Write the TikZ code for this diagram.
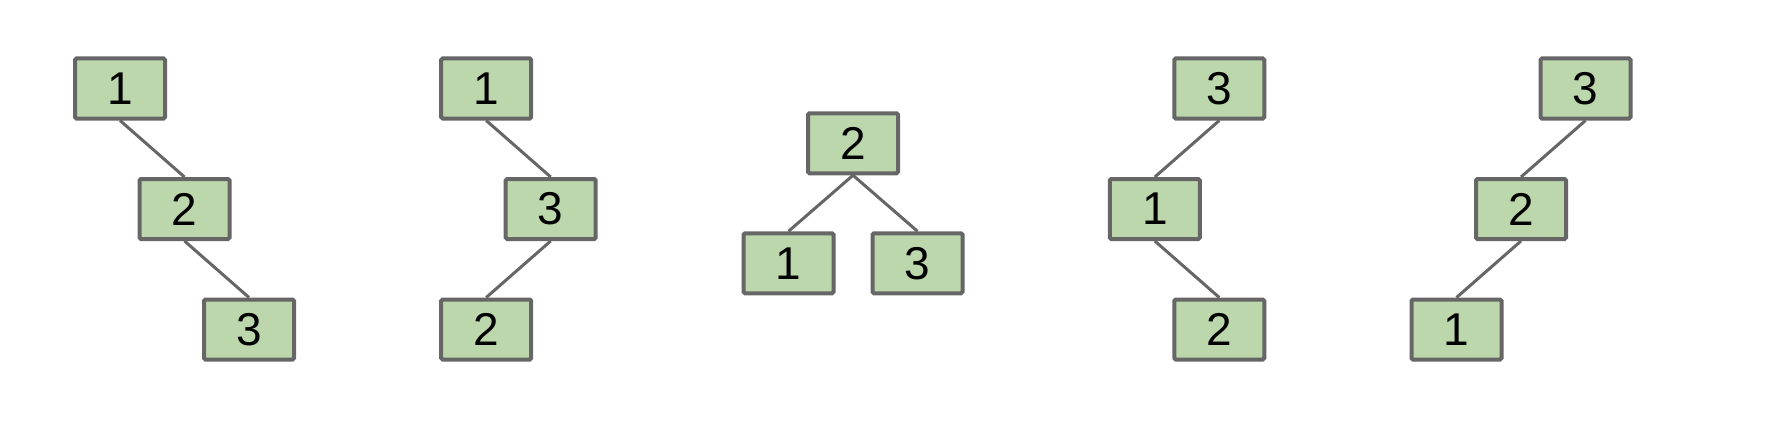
\documentclass[tikz,border=0pt]{standalone}
\usepackage{fontspec}
\setmainfont{Liberation Sans}
\definecolor{hopxanh}{HTML}{BCD7AC}
\definecolor{vienxam}{HTML}{666666}
\begin{document}
\begin{tikzpicture}[x=1pt,y=-1pt,
    hop/.style={draw=vienxam,fill=hopxanh,line width=4pt,rounded corners=1.5pt,
        minimum width=90pt,minimum height=60pt,inner sep=0pt,
        font=\fontsize{46}{46}\selectfont},
    canh/.style={draw=vienxam,line width=3pt}]
    \def\dx{64.5} \def\dy{120.5} % Khoảng cách
    \def\yt{88.5} % Hàng trên
    \useasboundingbox (0,0) rectangle (1778,436);
    % Cây 1
    \node[hop] (a1) at (120,\yt) {1};
    \node[hop] (a2) at (120+\dx,\yt+\dy) {2};
    \node[hop] (a3) at (120+2*\dx,\yt+2*\dy) {3};
    \draw[canh] (a1.south)--(a2.north) (a2.south)--(a3.north);
    % Cây 2
    \node[hop] (b1) at (486.2,\yt) {1};
    \node[hop] (b3) at (486.2+\dx,\yt+\dy) {3};
    \node[hop] (b2) at (486.2,\yt+2*\dy) {2};
    \draw[canh] (b1.south)--(b3.north) (b3.south)--(b2.north);
    % Cây 3
    \node[hop] (c2) at (853,143.3) {2};
    \node[hop] (c1) at (853-\dx,263.3) {1};
    \node[hop] (c3) at (853+\dx,263.3) {3};
    \draw[canh] (c2.south)--(c1.north) (c2.south)--(c3.north);
    % Cây 4
    \node[hop] (d3) at (1219.3,\yt) {3};
    \node[hop] (d1) at (1219.3-\dx,\yt+\dy) {1};
    \node[hop] (d2) at (1219.3,\yt+2*\dy) {2};
    \draw[canh] (d3.south)--(d1.north) (d1.south)--(d2.north);
    % Cây 5
    \node[hop] (e3) at (1585.5,\yt) {3};
    \node[hop] (e2) at (1585.5-\dx,\yt+\dy) {2};
    \node[hop] (e1) at (1585.5-2*\dx,\yt+2*\dy) {1};
    \draw[canh] (e3.south)--(e2.north) (e2.south)--(e1.north);
\end{tikzpicture}
\end{document}
